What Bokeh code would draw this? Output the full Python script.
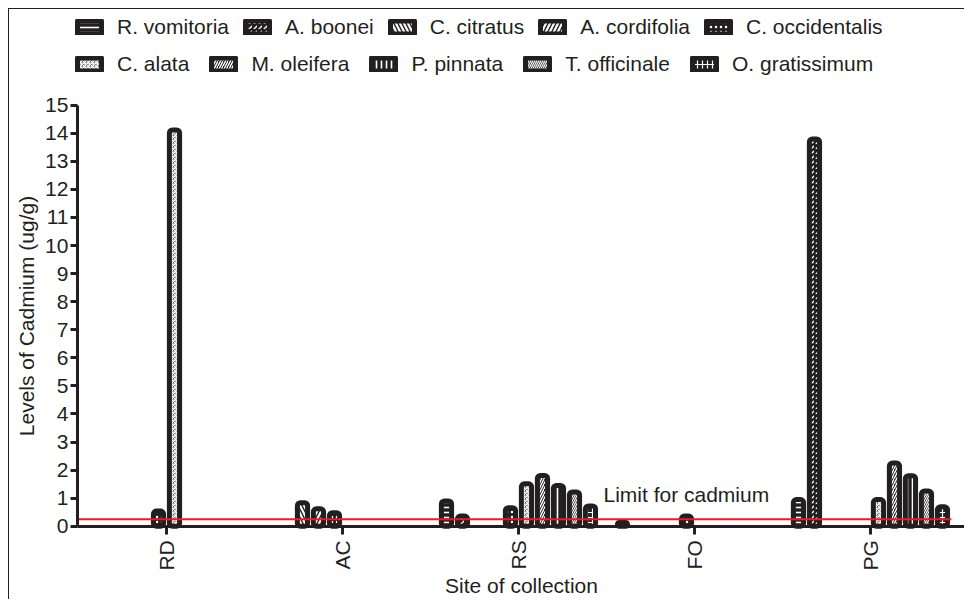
import numpy as np
from bokeh.plotting import figure
from bokeh.models import ColumnDataSource, Legend, LegendItem, Label, FixedTicker, Range1d
from bokeh.embed import file_html
from bokeh.resources import INLINE

# ---------------- data ----------------
sites = ["RD", "AC", "RS", "FO", "PG"]
species = ["R. vomitoria", "A. boonei", "C. citratus", "A. cordifolia", "C. occidentalis",
           "C. alata", "M. oleifera", "P. pinnata", "T. officinale", "O. gratissimum"]

r_vomitoria = [0, 0, 0.90, 0.13, 0.95]
a_boonei = [0, 0, 0.36, 0, 13.8]
c_citratus = [0, 0.84, 0, 0, 0]
a_cordifolia = [0, 0.62, 0, 0, 0]
c_occidentalis = [0.54, 0.48, 0.66, 0.36, 0]
c_alata = [14.12, 0, 1.51, 0, 0.95]
m_oleifera = [0, 0, 1.81, 0, 2.25]
p_pinnata = [0, 0, 1.45, 0, 1.8]
t_officinale = [0, 0, 1.22, 0, 1.25]
o_gratissimum = [0, 0, 0.72, 0, 0.69]

series_values = [r_vomitoria, a_boonei, c_citratus, a_cordifolia, c_occidentalis,
                 c_alata, m_oleifera, p_pinnata, t_officinale, o_gratissimum]

cadmium_limit = 0.25
limit_text = "Limit for cadmium"
y_ticks = list(range(0, 16))
y_max = 15
y_label = "Levels of Cadmium (ug/g)"
x_label = "Site of collection"

# ---------------- styles ----------------
FONT = "Liberation Sans"
INK = "#231f20"
FS = "21px"
patterns = [("-", 5, 1.6), (",", 5, 1.3), ("\\", 8, 2.2), ("/", 8, 2.2), (".", 5, 1.5),
            ("*", 4, 1.2), ("/", 5, 1.4), ("|", 5, 1.6), ("\\", 4, 1.2), ("+", 5, 1.2)]

n_series = len(species)
slot = 1.0 / (n_series + 1)
bar_w = 0.058

W, H = 956, 591
x_axis_pos = -0.506          # where the value axis sits
view_x = (-0.892, 4.540)     # whole canvas in data units
view_y = (-2.647, 18.41)

p = figure(width=W, height=H,
           x_range=Range1d(*view_x), y_range=Range1d(*view_y),
           output_backend="svg", toolbar_location=None,
           min_border_left=0, min_border_right=0, min_border_top=0, min_border_bottom=0)
p.margin = (8, 0, 0, 8)
p.styles = {"border-top": "1px solid #231f20", "border-left": "1px solid #231f20"}
p.outline_line_color = None
p.xgrid.visible = False
p.ygrid.visible = False
p.background_fill_color = "white"
p.border_fill_color = "white"

items = []
for k, (name, vals) in enumerate(zip(species, series_values)):
    offset = (k - (n_series - 1) / 2) * slot
    xs = [i + offset for i, v in enumerate(vals) if v > 0]
    tops = [v for v in vals if v > 0]
    src = ColumnDataSource(dict(x=xs, top=tops))
    pat, sc, wt = patterns[k]
    r = p.vbar(x="x", top="top", bottom=0, width=bar_w, source=src,
               fill_color=INK, line_color=INK, line_width=5, line_join="round",
               hatch_pattern=pat, hatch_color="white", hatch_scale=sc, hatch_weight=wt,
               border_radius=3)
    items.append(LegendItem(label=name, renderers=[r]))

# limit line and label
p.segment(x0=[x_axis_pos], x1=[len(sites) - 1 + 0.46], y0=[cadmium_limit], y1=[cadmium_limit],
          line_color="#ed1c24", line_width=2)
p.add_layout(Label(x=2.483, y=1.13, text=limit_text, text_font=FONT, text_font_size=FS,
                   text_color=INK, text_baseline="middle", text_align="left"))

# legends (two rows)
for rows, ypos, gap in ((items[:5], 561, 13), (items[5:], 524, 19)):
    leg = Legend(items=rows, orientation="horizontal", location=(65, ypos))
    leg.label_text_font = FONT
    leg.label_text_font_size = FS
    leg.label_text_color = INK
    leg.glyph_width = 30
    leg.glyph_height = 16
    leg.label_standoff = 13
    leg.spacing = gap
    leg.padding = 0
    leg.margin = 0
    leg.border_line_color = None
    leg.background_fill_alpha = 0
    p.add_layout(leg)

# axes (fixed inside the canvas-wide frame)
xa = p.xaxis[0]
xa.fixed_location = 0
xa.bounds = (x_axis_pos, view_x[1])
xa.ticker = FixedTicker(ticks=list(range(len(sites))))
xa.major_label_overrides = {i: s for i, s in enumerate(sites)}
xa.major_label_orientation = np.pi / 2
xa.axis_label = x_label
xa.major_tick_out = 8
xa.major_tick_in = 0
xa.major_label_standoff = 6
xa.axis_label_standoff = 0

ya = p.yaxis[0]
ya.fixed_location = x_axis_pos
ya.bounds = (0, y_max)
ya.ticker = FixedTicker(ticks=y_ticks)
ya.axis_label = y_label
ya.major_tick_out = 7
ya.major_tick_in = 0
ya.major_label_standoff = 2
ya.axis_label_standoff = 4

for ax in (xa, ya):
    ax.minor_tick_out = 0
    ax.minor_tick_in = 0
    ax.axis_line_color = INK
    ax.axis_line_width = 3
    ax.major_tick_line_color = INK
    ax.major_tick_line_width = 3
    ax.major_label_text_font = FONT
    ax.major_label_text_font_size = FS
    ax.major_label_text_color = INK
    ax.axis_label_text_font = FONT
    ax.axis_label_text_font_size = FS
    ax.axis_label_text_font_style = "normal"
    ax.axis_label_text_color = INK

open("out.html", "w").write(file_html(p, INLINE))
